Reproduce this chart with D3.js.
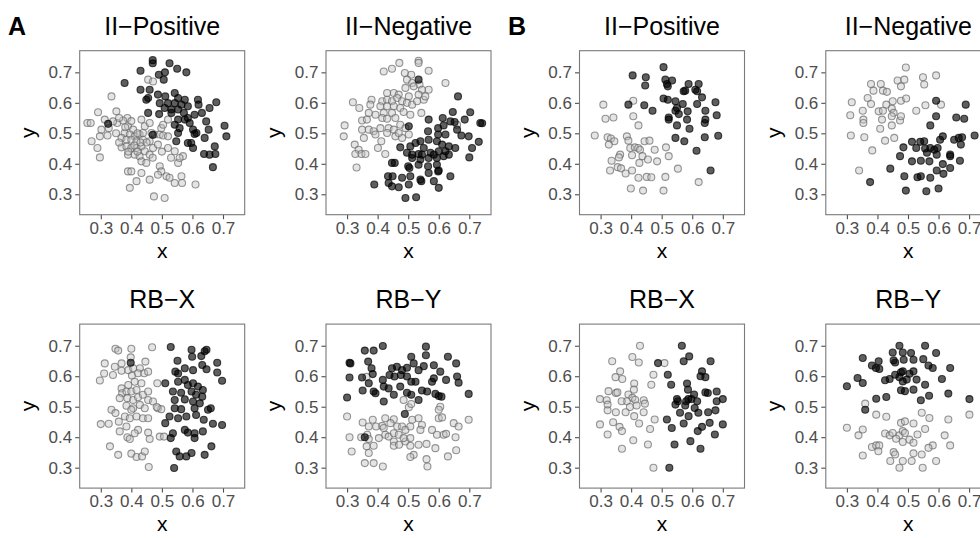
<!DOCTYPE html>
<html>
<head>
<meta charset="utf-8">
<script src="https://cdn.jsdelivr.net/npm/d3@7"></script>
<style>
  html, body { margin: 0; padding: 0; background: #fff; }
  svg { display: block; }
</style>
</head>
<body>
<svg id="chart" width="980" height="538"></svg>
<script>
// ---------- data ----------
const panelLetters = ["A", "B"];
const panelTitles = ["II\u2212Positive", "II\u2212Negative", "RB\u2212X", "RB\u2212Y"];
const tickValues = [0.3, 0.4, 0.5, 0.6, 0.7];
const tickLabels = ["0.3", "0.4", "0.5", "0.6", "0.7"];
const axisDomainX = [0.231, 0.771];
const axisDomainY = [0.233, 0.771];

// A: II-Positive
const A_IIpos_dark = [[0.47,0.74],[0.47,0.73],[0.525,0.73],[0.55,0.712],[0.58,0.70],[0.43,0.705],[0.49,0.692],[0.51,0.70],[0.506,0.676],[0.378,0.665],[0.43,0.643],[0.46,0.643],[0.455,0.616],[0.449,0.61],[0.487,0.627],[0.511,0.621],[0.542,0.632],[0.553,0.616],[0.575,0.61],[0.493,0.599],[0.52,0.599],[0.542,0.599],[0.564,0.594],[0.585,0.589],[0.509,0.583],[0.531,0.578],[0.553,0.578],[0.572,0.567],[0.585,0.55],[0.455,0.567],[0.491,0.563],[0.531,0.567],[0.618,0.61],[0.62,0.594],[0.656,0.583],[0.678,0.602],[0.607,0.561],[0.631,0.567],[0.553,0.545],[0.575,0.545],[0.542,0.528],[0.558,0.517],[0.591,0.534],[0.602,0.512],[0.613,0.501],[0.596,0.468],[0.602,0.452],[0.585,0.468],[0.645,0.539],[0.653,0.512],[0.64,0.485],[0.673,0.457],[0.638,0.432],[0.656,0.43],[0.675,0.432],[0.705,0.525],[0.711,0.49],[0.667,0.389],[0.324,0.531],[0.553,0.501],[0.547,0.474],[0.607,0.498],[0.47,0.495]];
const A_IIpos_light = [[0.335,0.621],[0.291,0.569],[0.256,0.534],[0.267,0.534],[0.313,0.545],[0.326,0.517],[0.351,0.572],[0.354,0.534],[0.387,0.55],[0.373,0.542],[0.34,0.539],[0.302,0.512],[0.27,0.474],[0.297,0.49],[0.322,0.493],[0.289,0.452],[0.297,0.421],[0.389,0.523],[0.406,0.512],[0.378,0.501],[0.395,0.496],[0.411,0.49],[0.427,0.496],[0.368,0.485],[0.384,0.479],[0.40,0.479],[0.417,0.474],[0.438,0.479],[0.368,0.454],[0.384,0.457],[0.40,0.452],[0.417,0.452],[0.433,0.457],[0.389,0.43],[0.411,0.43],[0.427,0.425],[0.444,0.441],[0.46,0.43],[0.433,0.408],[0.449,0.403],[0.471,0.452],[0.487,0.463],[0.46,0.474],[0.476,0.496],[0.493,0.496],[0.498,0.517],[0.504,0.528],[0.52,0.545],[0.433,0.545],[0.444,0.523],[0.46,0.534],[0.52,0.452],[0.542,0.441],[0.553,0.403],[0.569,0.425],[0.558,0.419],[0.493,0.392],[0.498,0.375],[0.487,0.364],[0.46,0.348],[0.515,0.359],[0.525,0.354],[0.542,0.337],[0.564,0.359],[0.566,0.337],[0.389,0.375],[0.40,0.375],[0.433,0.37],[0.417,0.343],[0.395,0.321],[0.61,0.332],[0.474,0.293],[0.509,0.288],[0.455,0.676],[0.471,0.67],[0.504,0.493],[0.466,0.501],[0.438,0.501],[0.41,0.46],[0.43,0.47],[0.45,0.47],[0.39,0.44],[0.42,0.44],[0.36,0.47],[0.35,0.50],[0.38,0.52],[0.40,0.54],[0.36,0.55],[0.53,0.42],[0.47,0.42],[0.50,0.44],[0.52,0.49],[0.42,0.50]];

// A: II-Negative
const A_IIneg_dark = [[0.534,0.676],[0.663,0.621],[0.646,0.57],[0.703,0.569],[0.567,0.545],[0.613,0.55],[0.638,0.539],[0.652,0.537],[0.685,0.545],[0.736,0.534],[0.742,0.533],[0.502,0.523],[0.565,0.507],[0.598,0.517],[0.616,0.526],[0.598,0.496],[0.622,0.496],[0.66,0.512],[0.674,0.493],[0.698,0.49],[0.731,0.472],[0.709,0.452],[0.70,0.421],[0.474,0.454],[0.507,0.457],[0.524,0.468],[0.54,0.474],[0.567,0.479],[0.594,0.474],[0.611,0.463],[0.633,0.457],[0.496,0.436],[0.513,0.43],[0.534,0.432],[0.545,0.43],[0.573,0.436],[0.584,0.43],[0.60,0.441],[0.622,0.441],[0.633,0.43],[0.513,0.419],[0.54,0.414],[0.567,0.419],[0.594,0.419],[0.616,0.425],[0.447,0.403],[0.456,0.403],[0.50,0.392],[0.504,0.386],[0.534,0.397],[0.565,0.392],[0.594,0.397],[0.60,0.378],[0.434,0.359],[0.449,0.359],[0.48,0.354],[0.507,0.359],[0.54,0.348],[0.567,0.37],[0.598,0.375],[0.638,0.359],[0.436,0.337],[0.447,0.326],[0.469,0.323],[0.502,0.332],[0.543,0.343],[0.584,0.343],[0.60,0.321],[0.389,0.332],[0.491,0.288],[0.526,0.29],[0.654,0.452],[0.551,0.452]];
const A_IIneg_light = [[0.42,0.703],[0.447,0.712],[0.471,0.731],[0.534,0.738],[0.534,0.731],[0.489,0.698],[0.51,0.692],[0.567,0.705],[0.496,0.676],[0.513,0.665],[0.537,0.66],[0.622,0.665],[0.491,0.649],[0.518,0.654],[0.545,0.643],[0.567,0.643],[0.431,0.632],[0.453,0.632],[0.469,0.627],[0.502,0.621],[0.534,0.627],[0.551,0.61],[0.556,0.621],[0.319,0.602],[0.38,0.61],[0.376,0.594],[0.34,0.583],[0.415,0.605],[0.431,0.61],[0.447,0.605],[0.464,0.616],[0.48,0.605],[0.496,0.60],[0.513,0.594],[0.529,0.605],[0.409,0.589],[0.431,0.589],[0.453,0.589],[0.474,0.583],[0.371,0.567],[0.393,0.561],[0.42,0.567],[0.447,0.567],[0.485,0.57],[0.507,0.561],[0.543,0.567],[0.349,0.542],[0.365,0.545],[0.415,0.55],[0.431,0.548],[0.458,0.55],[0.292,0.526],[0.289,0.49],[0.349,0.512],[0.371,0.512],[0.387,0.507],[0.393,0.496],[0.355,0.485],[0.436,0.517],[0.453,0.512],[0.474,0.528],[0.491,0.517],[0.502,0.496],[0.458,0.49],[0.325,0.463],[0.338,0.446],[0.327,0.432],[0.347,0.432],[0.36,0.432],[0.401,0.452],[0.412,0.474],[0.425,0.432],[0.48,0.485],[0.331,0.388],[0.66,0.528],[0.431,0.501],[0.409,0.517],[0.469,0.501]];

// A: RB-X
const A_RBX_dark = [[0.529,0.696],[0.597,0.687],[0.64,0.682],[0.646,0.687],[0.398,0.644],[0.551,0.651],[0.599,0.664],[0.629,0.666],[0.681,0.644],[0.544,0.615],[0.553,0.609],[0.575,0.626],[0.602,0.62],[0.632,0.637],[0.646,0.623],[0.681,0.612],[0.697,0.585],[0.511,0.577],[0.553,0.582],[0.575,0.588],[0.585,0.571],[0.602,0.577],[0.618,0.566],[0.634,0.555],[0.536,0.55],[0.563,0.546],[0.597,0.55],[0.612,0.539],[0.632,0.533],[0.542,0.522],[0.575,0.524],[0.602,0.517],[0.624,0.511],[0.542,0.495],[0.563,0.492],[0.607,0.495],[0.651,0.49],[0.66,0.495],[0.525,0.468],[0.553,0.462],[0.58,0.468],[0.612,0.473],[0.637,0.457],[0.511,0.446],[0.667,0.444],[0.697,0.44],[0.575,0.424],[0.585,0.415],[0.607,0.413],[0.634,0.419],[0.536,0.413],[0.529,0.397],[0.607,0.397],[0.547,0.353],[0.558,0.337],[0.58,0.337],[0.597,0.348],[0.64,0.342],[0.662,0.37],[0.54,0.299]];
const A_RBX_light = [[0.348,0.69],[0.357,0.684],[0.40,0.69],[0.468,0.695],[0.398,0.662],[0.313,0.642],[0.346,0.631],[0.368,0.642],[0.368,0.618],[0.39,0.62],[0.406,0.626],[0.428,0.626],[0.446,0.648],[0.297,0.586],[0.311,0.609],[0.34,0.604],[0.402,0.602],[0.422,0.61],[0.442,0.61],[0.455,0.615],[0.411,0.582],[0.433,0.577],[0.39,0.571],[0.368,0.56],[0.37,0.544],[0.362,0.528],[0.384,0.55],[0.40,0.55],[0.417,0.555],[0.387,0.528],[0.406,0.522],[0.422,0.531],[0.438,0.539],[0.455,0.55],[0.485,0.577],[0.384,0.503],[0.406,0.495],[0.428,0.506],[0.444,0.495],[0.455,0.522],[0.471,0.517],[0.487,0.495],[0.498,0.492],[0.335,0.49],[0.348,0.479],[0.379,0.468],[0.395,0.462],[0.417,0.468],[0.438,0.462],[0.455,0.462],[0.30,0.443],[0.326,0.444],[0.359,0.451],[0.384,0.435],[0.362,0.419],[0.422,0.424],[0.411,0.413],[0.387,0.40],[0.395,0.394],[0.455,0.415],[0.493,0.402],[0.507,0.402],[0.46,0.394],[0.33,0.37],[0.357,0.342],[0.40,0.346],[0.417,0.335],[0.435,0.337],[0.444,0.353],[0.457,0.302],[0.40,0.49],[0.483,0.499]];

// A: RB-Y
const A_RBY_dark = [[0.417,0.699],[0.358,0.684],[0.387,0.684],[0.558,0.697],[0.558,0.669],[0.51,0.664],[0.63,0.664],[0.308,0.644],[0.311,0.642],[0.369,0.648],[0.657,0.642],[0.38,0.626],[0.384,0.607],[0.447,0.626],[0.463,0.631],[0.48,0.62],[0.496,0.628],[0.518,0.642],[0.534,0.62],[0.551,0.633],[0.584,0.636],[0.605,0.615],[0.308,0.596],[0.349,0.596],[0.371,0.577],[0.417,0.588],[0.439,0.604],[0.455,0.599],[0.476,0.604],[0.496,0.599],[0.51,0.582],[0.524,0.582],[0.578,0.582],[0.584,0.593],[0.624,0.588],[0.66,0.599],[0.665,0.579],[0.351,0.553],[0.387,0.55],[0.393,0.544],[0.42,0.566],[0.436,0.56],[0.474,0.566],[0.496,0.546],[0.545,0.553],[0.589,0.542],[0.60,0.535],[0.609,0.533],[0.30,0.53],[0.42,0.517],[0.453,0.539],[0.51,0.539],[0.534,0.522],[0.698,0.542],[0.489,0.476],[0.358,0.40],[0.562,0.55]];
const A_RBY_light = [[0.30,0.468],[0.351,0.448],[0.384,0.457],[0.371,0.435],[0.308,0.40],[0.346,0.40],[0.366,0.408],[0.395,0.435],[0.415,0.437],[0.425,0.408],[0.42,0.43],[0.453,0.459],[0.464,0.435],[0.48,0.435],[0.491,0.424],[0.507,0.435],[0.513,0.457],[0.534,0.462],[0.545,0.44],[0.54,0.424],[0.578,0.424],[0.594,0.408],[0.616,0.408],[0.624,0.411],[0.60,0.462],[0.611,0.465],[0.605,0.50],[0.60,0.49],[0.649,0.446],[0.665,0.435],[0.698,0.457],[0.655,0.40],[0.371,0.394],[0.387,0.372],[0.364,0.37],[0.315,0.353],[0.371,0.348],[0.404,0.397],[0.436,0.402],[0.453,0.386],[0.453,0.372],[0.47,0.375],[0.491,0.386],[0.507,0.372],[0.507,0.397],[0.534,0.375],[0.56,0.378],[0.589,0.364],[0.518,0.342],[0.507,0.335],[0.56,0.328],[0.563,0.304],[0.63,0.337],[0.657,0.357],[0.358,0.315],[0.387,0.315],[0.417,0.304],[0.485,0.522],[0.502,0.498],[0.51,0.509],[0.364,0.598],[0.453,0.413],[0.469,0.408],[0.485,0.397],[0.442,0.446],[0.425,0.462]];

// B: II-Positive
const B_IIpos_dark = [[0.506,0.717],[0.405,0.69],[0.448,0.684],[0.446,0.657],[0.512,0.676],[0.517,0.662],[0.534,0.673],[0.52,0.654],[0.588,0.662],[0.621,0.662],[0.572,0.638],[0.577,0.64],[0.61,0.643],[0.616,0.638],[0.632,0.618],[0.506,0.614],[0.52,0.61],[0.545,0.605],[0.569,0.596],[0.55,0.583],[0.545,0.574],[0.556,0.563],[0.585,0.572],[0.616,0.596],[0.676,0.602],[0.643,0.574],[0.68,0.559],[0.391,0.594],[0.443,0.592],[0.47,0.574],[0.523,0.552],[0.523,0.545],[0.583,0.545],[0.643,0.545],[0.641,0.534],[0.55,0.526],[0.591,0.515],[0.545,0.485],[0.574,0.474],[0.641,0.487],[0.685,0.492],[0.614,0.443],[0.66,0.378]];
const B_IIpos_light = [[0.309,0.594],[0.316,0.548],[0.342,0.552],[0.407,0.607],[0.407,0.556],[0.424,0.526],[0.281,0.493],[0.323,0.487],[0.334,0.483],[0.345,0.474],[0.327,0.463],[0.386,0.49],[0.391,0.476],[0.397,0.452],[0.412,0.454],[0.423,0.452],[0.429,0.446],[0.444,0.474],[0.46,0.476],[0.477,0.446],[0.437,0.425],[0.403,0.428],[0.364,0.43],[0.36,0.421],[0.336,0.41],[0.356,0.389],[0.367,0.385],[0.331,0.378],[0.382,0.368],[0.403,0.378],[0.427,0.403],[0.455,0.414],[0.485,0.408],[0.514,0.454],[0.523,0.425],[0.553,0.384],[0.424,0.354],[0.451,0.357],[0.466,0.356],[0.512,0.357],[0.399,0.319],[0.439,0.312],[0.506,0.312],[0.621,0.34]];

// B: II-Negative
const B_IIneg_dark = [[0.592,0.607],[0.689,0.594],[0.592,0.556],[0.658,0.552],[0.684,0.548],[0.573,0.526],[0.614,0.49],[0.605,0.479],[0.553,0.474],[0.54,0.472],[0.513,0.472],[0.485,0.454],[0.527,0.452],[0.556,0.45],[0.573,0.452],[0.586,0.446],[0.562,0.436],[0.597,0.452],[0.594,0.43],[0.651,0.479],[0.666,0.485],[0.677,0.487],[0.673,0.463],[0.718,0.493],[0.474,0.425],[0.513,0.408],[0.542,0.41],[0.57,0.408],[0.638,0.43],[0.638,0.425],[0.67,0.41],[0.614,0.399],[0.594,0.378],[0.616,0.367],[0.638,0.386],[0.442,0.384],[0.488,0.359],[0.531,0.356],[0.542,0.359],[0.573,0.354],[0.376,0.34],[0.493,0.312],[0.56,0.31],[0.60,0.319]];
const B_IIneg_light = [[0.493,0.716],[0.379,0.662],[0.411,0.662],[0.466,0.673],[0.488,0.676],[0.477,0.654],[0.387,0.64],[0.418,0.64],[0.431,0.636],[0.549,0.684],[0.553,0.66],[0.592,0.69],[0.316,0.602],[0.368,0.616],[0.379,0.596],[0.429,0.594],[0.45,0.605],[0.477,0.607],[0.494,0.614],[0.311,0.559],[0.352,0.574],[0.354,0.545],[0.354,0.534],[0.404,0.572],[0.418,0.574],[0.447,0.581],[0.453,0.567],[0.447,0.556],[0.415,0.545],[0.474,0.542],[0.477,0.556],[0.447,0.526],[0.409,0.515],[0.527,0.574],[0.557,0.592],[0.608,0.594],[0.313,0.493],[0.357,0.487],[0.425,0.476],[0.455,0.485],[0.383,0.444],[0.34,0.378]];

// B: RB-X
const B_RBX_dark = [[0.566,0.70],[0.59,0.665],[0.572,0.649],[0.488,0.643],[0.66,0.649],[0.632,0.616],[0.627,0.60],[0.643,0.597],[0.52,0.605],[0.531,0.572],[0.583,0.576],[0.586,0.556],[0.606,0.54],[0.616,0.518],[0.643,0.547],[0.651,0.545],[0.68,0.55],[0.68,0.518],[0.70,0.525],[0.55,0.525],[0.553,0.518],[0.545,0.507],[0.58,0.518],[0.587,0.525],[0.597,0.525],[0.577,0.504],[0.608,0.496],[0.56,0.48],[0.588,0.469],[0.62,0.48],[0.652,0.482],[0.676,0.488],[0.517,0.458],[0.572,0.445],[0.533,0.43],[0.632,0.434],[0.657,0.447],[0.70,0.442],[0.618,0.42],[0.674,0.409],[0.542,0.376],[0.594,0.387],[0.627,0.362],[0.525,0.30]];
const B_RBX_light = [[0.429,0.70],[0.404,0.663],[0.425,0.645],[0.338,0.649],[0.509,0.643],[0.364,0.616],[0.349,0.597],[0.371,0.591],[0.473,0.605],[0.41,0.576],[0.466,0.572],[0.409,0.556],[0.326,0.551],[0.35,0.545],[0.355,0.547],[0.391,0.54],[0.404,0.529],[0.413,0.523],[0.386,0.518],[0.441,0.521],[0.445,0.51],[0.298,0.525],[0.32,0.521],[0.323,0.507],[0.369,0.518],[0.396,0.499],[0.323,0.488],[0.35,0.482],[0.382,0.482],[0.418,0.504],[0.441,0.482],[0.41,0.469],[0.477,0.458],[0.298,0.442],[0.341,0.449],[0.362,0.434],[0.37,0.42],[0.426,0.445],[0.462,0.427],[0.323,0.409],[0.407,0.39],[0.455,0.376],[0.37,0.362],[0.473,0.30]];

// B: RB-Y
const B_RBY_dark = [[0.472,0.70],[0.556,0.70],[0.45,0.678],[0.483,0.678],[0.51,0.676],[0.592,0.676],[0.352,0.66],[0.404,0.649],[0.382,0.635],[0.395,0.627],[0.406,0.624],[0.453,0.652],[0.458,0.645],[0.486,0.654],[0.518,0.654],[0.55,0.656],[0.567,0.635],[0.581,0.627],[0.638,0.627],[0.335,0.594],[0.352,0.578],[0.425,0.587],[0.44,0.591],[0.458,0.605],[0.477,0.613],[0.483,0.616],[0.505,0.608],[0.518,0.616],[0.472,0.597],[0.483,0.583],[0.496,0.589],[0.528,0.589],[0.556,0.572],[0.611,0.591],[0.30,0.567],[0.477,0.554],[0.49,0.551],[0.518,0.556],[0.429,0.532],[0.396,0.526],[0.542,0.521],[0.569,0.536],[0.632,0.543],[0.701,0.525],[0.36,0.49]];
const B_RBY_light = [[0.36,0.51],[0.396,0.474],[0.429,0.467],[0.30,0.431],[0.352,0.425],[0.338,0.406],[0.425,0.412],[0.44,0.406],[0.45,0.414],[0.472,0.406],[0.477,0.447],[0.49,0.452],[0.483,0.42],[0.49,0.414],[0.518,0.445],[0.531,0.409],[0.545,0.48],[0.57,0.463],[0.556,0.427],[0.632,0.458],[0.62,0.406],[0.701,0.474],[0.638,0.373],[0.581,0.373],[0.567,0.365],[0.461,0.395],[0.483,0.384],[0.505,0.392],[0.518,0.382],[0.382,0.368],[0.396,0.373],[0.406,0.373],[0.403,0.354],[0.352,0.34],[0.453,0.351],[0.458,0.343],[0.442,0.322],[0.483,0.322],[0.472,0.30],[0.512,0.322],[0.518,0.347],[0.545,0.343],[0.548,0.30],[0.592,0.322]];

// ---------- panels (built from the arrays above) ----------
const panels = [
  { col: 0, row: 0, title: panelTitles[0], dark: A_IIpos_dark, light: A_IIpos_light },
  { col: 1, row: 0, title: panelTitles[1], dark: A_IIneg_dark, light: A_IIneg_light },
  { col: 0, row: 1, title: panelTitles[2], dark: A_RBX_dark,   light: A_RBX_light },
  { col: 1, row: 1, title: panelTitles[3], dark: A_RBY_dark,   light: A_RBY_light },
  { col: 2, row: 0, title: panelTitles[0], dark: B_IIpos_dark, light: B_IIpos_light },
  { col: 3, row: 0, title: panelTitles[1], dark: B_IIneg_dark, light: B_IIneg_light },
  { col: 2, row: 1, title: panelTitles[2], dark: B_RBX_dark,   light: B_RBX_light },
  { col: 3, row: 1, title: panelTitles[3], dark: B_RBY_dark,   light: B_RBY_light }
];

// ---------- layout ----------
const colLeft = [79.7, 326.0, 579.5, 825.8];
const rowTop = [50.7, 324.1];
const boxW = 165, boxH = 164;
const FONT = "'Liberation Sans', Arial, Helvetica, sans-serif";

const svg = d3.select("#chart");
svg.append("rect").attr("width", 980).attr("height", 538).attr("fill", "#fff");

const x = d3.scaleLinear().domain(axisDomainX).range([0, boxW]);
const y = d3.scaleLinear().domain(axisDomainY).range([boxH, 0]);

panels.forEach(p => {
  const g = svg.append("g").attr("transform", `translate(${colLeft[p.col]},${rowTop[p.row]})`);

  g.append("rect").attr("width", boxW).attr("height", boxH).attr("fill", "#fff");

  const xAxis = d3.axisBottom(x).tickValues(tickValues)
    .tickFormat((d, i) => tickLabels[i]).tickSize(4.5).tickPadding(2.5);
  const yAxis = d3.axisLeft(y).tickValues(tickValues)
    .tickFormat((d, i) => tickLabels[i]).tickSize(4.5).tickPadding(3);

  const gx = g.append("g").attr("transform", `translate(0,${boxH})`).call(xAxis);
  const gy = g.append("g").call(yAxis);
  [gx, gy].forEach(a => {
    a.select(".domain").remove();
    a.selectAll(".tick line").attr("stroke", "#4d4d4d").attr("stroke-width", 1.1);
    a.selectAll(".tick text").attr("fill", "#4d4d4d")
      .style("font-family", FONT).style("font-size", "17px");
  });

  const pts = g.append("g");
  pts.selectAll("circle.light").data(p.light).join("circle")
    .attr("class", "light")
    .attr("cx", d => x(d[0])).attr("cy", d => y(d[1])).attr("r", 3.5)
    .attr("fill", "#c4c4c4").attr("fill-opacity", 0.45)
    .attr("stroke", "#6a6a6a").attr("stroke-opacity", 0.7).attr("stroke-width", 1.1);
  pts.selectAll("circle.dark").data(p.dark).join("circle")
    .attr("class", "dark")
    .attr("cx", d => x(d[0])).attr("cy", d => y(d[1])).attr("r", 3.5)
    .attr("fill", "#000").attr("fill-opacity", 0.63)
    .attr("stroke", "#000").attr("stroke-opacity", 0.7).attr("stroke-width", 1.1);

  g.append("rect").attr("width", boxW).attr("height", boxH)
    .attr("fill", "none").attr("stroke", "#7a7a7a").attr("stroke-width", 1.1);

  g.append("text").attr("x", boxW / 2).attr("y", -16)
    .attr("text-anchor", "middle").attr("fill", "#000")
    .style("font-family", FONT).style("font-size", "25px")
    .text(p.title);

  g.append("text").attr("x", boxW / 2).attr("y", boxH + 43)
    .attr("text-anchor", "middle").attr("fill", "#000")
    .style("font-family", FONT).style("font-size", "21px")
    .text("x");
  g.append("text")
    .attr("transform", `translate(-45,${boxH / 2}) rotate(-90)`)
    .attr("text-anchor", "middle").attr("fill", "#000")
    .style("font-family", FONT).style("font-size", "21px")
    .text("y");
});

panelLetters.forEach((L, i) => {
  svg.append("text").attr("x", 8 + i * 500).attr("y", 35)
    .attr("fill", "#000").style("font-family", FONT)
    .style("font-size", "25px").style("font-weight", "bold")
    .text(L);
});
</script>
</body>
</html>
